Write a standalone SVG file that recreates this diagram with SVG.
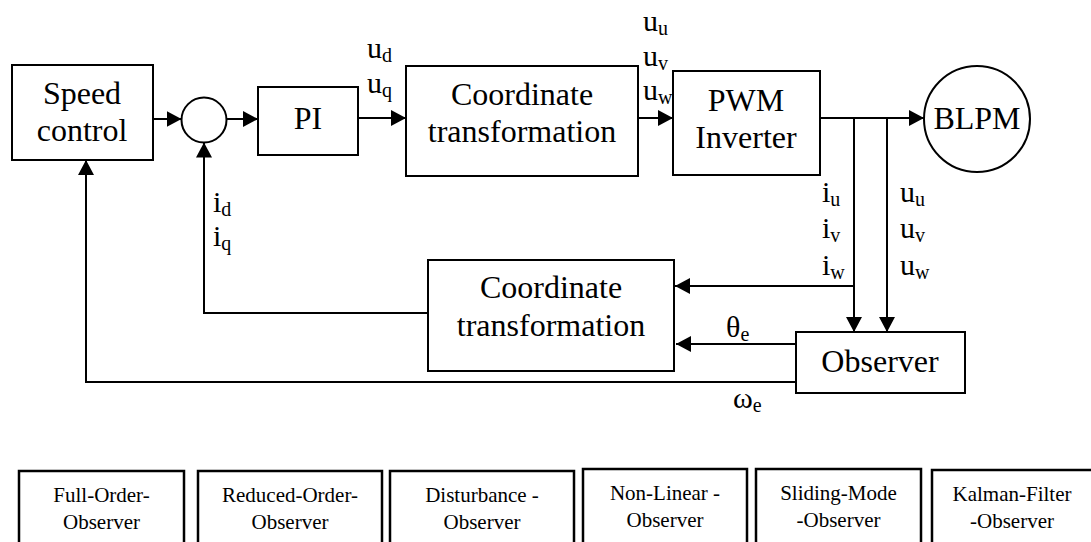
<svg xmlns="http://www.w3.org/2000/svg" width="1091" height="542" viewBox="0 0 1091 542">
<style>
  .box{fill:#fff;stroke:#000;stroke-width:2}
  .obox{fill:#fff;stroke:#000;stroke-width:2.5}
  .t{font-family:"Liberation Serif","Times New Roman",serif;font-size:32px;fill:#000;text-anchor:middle}
  .lb{font-family:"Liberation Serif","Times New Roman",serif;font-size:30px;fill:#000}
  .sub{font-size:20px}
  .ot{font-family:"Liberation Serif","Times New Roman",serif;font-size:21px;fill:#000;text-anchor:middle}
  .ln{fill:none;stroke:#000;stroke-width:2}
  .ar{marker-end:url(#ah)}
</style>
<defs>
  <marker id="ah" markerUnits="userSpaceOnUse" markerWidth="15" markerHeight="16" refX="15" refY="8" orient="auto">
    <path d="M0,0 L15,8 L0,16 z" fill="#000"/>
  </marker>
</defs>
<rect width="1091" height="542" fill="#fff"/>
<g id="connectors">
  <path class="ln ar" d="M153,119 H181.5"/>
  <path class="ln ar" d="M226.5,119 H258"/>
  <path class="ln ar" d="M358,118 H406"/>
  <path class="ln ar" d="M638,118 H673"/>
  <path class="ln ar" d="M820,118 H924"/>
  <path class="ln ar" d="M854,118 V332"/>
  <path class="ln ar" d="M887,118 V332"/>
  <path class="ln ar" d="M854,286 H675"/>
  <path class="ln ar" d="M796,344 H676"/>
  <path class="ln ar" d="M796,382 H86 V160"/>
  <path class="ln ar" d="M428,313 H204 V142.5"/>
</g>
<g id="speed-control">
  <rect class="box" x="12" y="65" width="141" height="95"/>
  <text class="t" x="82" y="104">Speed</text>
  <text class="t" x="82" y="141">control</text>
</g>
<g id="sum">
  <circle class="box" cx="204" cy="120" r="22.5"/>
</g>
<g id="pi">
  <rect class="box" x="258" y="87" width="100" height="68"/>
  <text class="t" x="308" y="129">PI</text>
</g>
<g id="coord1">
  <rect class="box" x="406" y="66" width="232" height="110"/>
  <text class="t" x="522" y="105">Coordinate</text>
  <text class="t" x="522" y="142">transformation</text>
</g>
<g id="pwm">
  <rect class="box" x="673" y="71" width="147" height="104"/>
  <text class="t" x="746" y="111">PWM</text>
  <text class="t" x="746" y="148">Inverter</text>
</g>
<g id="blpm">
  <circle class="box" cx="977" cy="119" r="53"/>
  <text class="t" x="977" y="129">BLPM</text>
</g>
<g id="coord2">
  <rect class="box" x="428" y="260" width="246" height="111"/>
  <text class="t" x="551" y="298">Coordinate</text>
  <text class="t" x="551" y="336">transformation</text>
</g>
<g id="observer">
  <rect class="box" x="796" y="332" width="169" height="61"/>
  <text class="t" x="880" y="372">Observer</text>
</g>
<g id="labels">
  <text class="lb" x="367" y="58">u<tspan class="sub" dy="4">d</tspan></text>
  <text class="lb" x="367" y="93">u<tspan class="sub" dy="4">q</tspan></text>
  <text class="lb" x="643" y="31">u<tspan class="sub" dy="4">u</tspan></text>
  <text class="lb" x="643" y="66">u<tspan class="sub" dy="4">v</tspan></text>
  <text class="lb" x="643" y="100">u<tspan class="sub" dy="4">w</tspan></text>
  <text class="lb" x="822" y="202">i<tspan class="sub" dy="4">u</tspan></text>
  <text class="lb" x="822" y="238">i<tspan class="sub" dy="4">v</tspan></text>
  <text class="lb" x="822" y="275">i<tspan class="sub" dy="4">w</tspan></text>
  <text class="lb" x="900" y="202">u<tspan class="sub" dy="4">u</tspan></text>
  <text class="lb" x="900" y="238">u<tspan class="sub" dy="4">v</tspan></text>
  <text class="lb" x="900" y="275">u<tspan class="sub" dy="4">w</tspan></text>
  <text class="lb" x="213" y="212">i<tspan class="sub" dy="4">d</tspan></text>
  <text class="lb" x="213" y="246">i<tspan class="sub" dy="4">q</tspan></text>
  <text class="lb" x="726" y="337">θ<tspan class="sub" dy="4">e</tspan></text>
  <text class="lb" x="733" y="408">ω<tspan class="sub" dy="4">e</tspan></text>
</g>
<g id="obs-full">
  <rect class="obox" x="19" y="471" width="165" height="90"/>
  <text class="ot" x="101.5" y="502">Full-Order-</text>
  <text class="ot" x="101.5" y="529">Observer</text>
</g>
<g id="obs-reduced">
  <rect class="obox" x="198" y="471" width="184" height="90"/>
  <text class="ot" x="290" y="502">Reduced-Order-</text>
  <text class="ot" x="290" y="529">Observer</text>
</g>
<g id="obs-disturbance">
  <rect class="obox" x="390" y="471" width="184" height="90"/>
  <text class="ot" x="482" y="502">Disturbance -</text>
  <text class="ot" x="482" y="529">Observer</text>
</g>
<g id="obs-nonlinear">
  <rect class="obox" x="583" y="469" width="164" height="92"/>
  <text class="ot" x="665" y="500">Non-Linear -</text>
  <text class="ot" x="665" y="527">Observer</text>
</g>
<g id="obs-sliding">
  <rect class="obox" x="756" y="469" width="165" height="92"/>
  <text class="ot" x="838.5" y="500">Sliding-Mode</text>
  <text class="ot" x="838.5" y="527">-Observer</text>
</g>
<g id="obs-kalman">
  <rect class="obox" x="932" y="470" width="165" height="92"/>
  <text class="ot" x="1012" y="501">Kalman-Filter</text>
  <text class="ot" x="1012" y="528">-Observer</text>
</g>
</svg>
